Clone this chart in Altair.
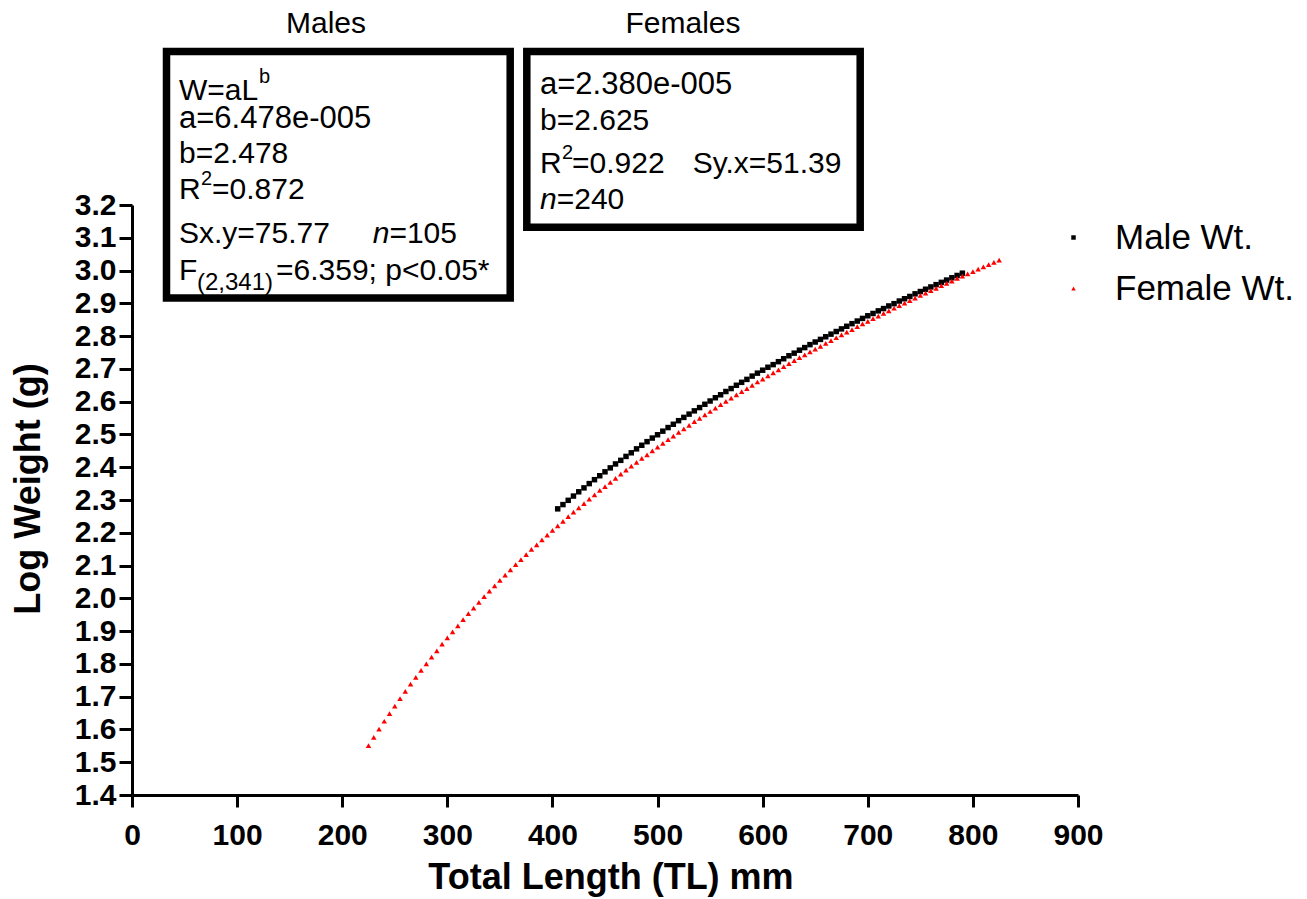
import altair as alt
import pandas as pd

FONT = "Liberation Sans"

# ---- data (fitted length-weight curves) ----
series_names = ["Male Wt.", "Female Wt."]

male_tl = [405, 410, 415, 420, 425, 430, 435, 440, 445, 450,
           455, 460, 465, 470, 475, 480, 485, 490, 495, 500,
           505, 510, 515, 520, 525, 530, 535, 540, 545, 550,
           555, 560, 565, 570, 575, 580, 585, 590, 595, 600,
           605, 610, 615, 620, 625, 630, 635, 640, 645, 650,
           655, 660, 665, 670, 675, 680, 685, 690, 695, 700,
           705, 710, 715, 720, 725, 730, 735, 740, 745, 750,
           755, 760, 765, 770, 775, 780, 785, 790]
male_logw = [2.273, 2.286, 2.299, 2.312, 2.325, 2.337, 2.350, 2.362, 2.374, 2.386,
             2.398, 2.410, 2.421, 2.433, 2.444, 2.456, 2.467, 2.478, 2.489, 2.499,
             2.510, 2.521, 2.531, 2.542, 2.552, 2.562, 2.572, 2.582, 2.592, 2.602,
             2.612, 2.621, 2.631, 2.640, 2.650, 2.659, 2.668, 2.678, 2.687, 2.696,
             2.705, 2.713, 2.722, 2.731, 2.740, 2.748, 2.757, 2.765, 2.774, 2.782,
             2.790, 2.798, 2.806, 2.814, 2.822, 2.830, 2.838, 2.846, 2.854, 2.862,
             2.869, 2.877, 2.884, 2.892, 2.899, 2.907, 2.914, 2.921, 2.929, 2.936,
             2.943, 2.950, 2.957, 2.964, 2.971, 2.978, 2.985, 2.992]

female_tl = [225, 230, 235, 240, 245, 250, 255, 260, 265, 270,
             275, 280, 285, 290, 295, 300, 305, 310, 315, 320,
             325, 330, 335, 340, 345, 350, 355, 360, 365, 370,
             375, 380, 385, 390, 395, 400, 405, 410, 415, 420,
             425, 430, 435, 440, 445, 450, 455, 460, 465, 470,
             475, 480, 485, 490, 495, 500, 505, 510, 515, 520,
             525, 530, 535, 540, 545, 550, 555, 560, 565, 570,
             575, 580, 585, 590, 595, 600, 605, 610, 615, 620,
             625, 630, 635, 640, 645, 650, 655, 660, 665, 670,
             675, 680, 685, 690, 695, 700, 705, 710, 715, 720,
             725, 730, 735, 740, 745, 750, 755, 760, 765, 770,
             775, 780, 785, 790, 795, 800, 805, 810, 815, 820,
             825]
female_logw = [1.551, 1.576, 1.601, 1.625, 1.648, 1.671, 1.694, 1.716, 1.738, 1.759,
               1.780, 1.800, 1.821, 1.840, 1.860, 1.879, 1.898, 1.916, 1.935, 1.953,
               1.970, 1.988, 2.005, 2.022, 2.038, 2.055, 2.071, 2.087, 2.103, 2.118,
               2.133, 2.149, 2.163, 2.178, 2.193, 2.207, 2.221, 2.235, 2.249, 2.263,
               2.276, 2.289, 2.303, 2.316, 2.329, 2.341, 2.354, 2.366, 2.379, 2.391,
               2.403, 2.415, 2.427, 2.438, 2.450, 2.461, 2.473, 2.484, 2.495, 2.506,
               2.517, 2.528, 2.539, 2.549, 2.560, 2.570, 2.580, 2.591, 2.601, 2.611,
               2.621, 2.631, 2.640, 2.650, 2.660, 2.669, 2.679, 2.688, 2.697, 2.707,
               2.716, 2.725, 2.734, 2.743, 2.752, 2.760, 2.769, 2.778, 2.786, 2.795,
               2.804, 2.812, 2.820, 2.829, 2.837, 2.845, 2.853, 2.861, 2.869, 2.877,
               2.885, 2.893, 2.901, 2.908, 2.916, 2.924, 2.931, 2.939, 2.946, 2.954,
               2.961, 2.968, 2.976, 2.983, 2.990, 2.997, 3.004, 3.011, 3.018, 3.025,
               3.032]

x_ticks = [0, 100, 200, 300, 400, 500, 600, 700, 800, 900]
y_ticks = [1.4, 1.5, 1.6, 1.7, 1.8, 1.9, 2.0, 2.1, 2.2, 2.3,
           2.4, 2.5, 2.6, 2.7, 2.8, 2.9, 3.0, 3.1, 3.2]

# ---- layout (pixels in the 1307x899 page) ----
LEFT, TOP, W, H = 132, 205, 946, 590

df = pd.DataFrame({
    "tl": male_tl + female_tl,
    "logw": male_logw + female_logw,
    "series": [series_names[0]] * len(male_tl) + [series_names[1]] * len(female_tl),
})
one = pd.DataFrame({"k": [0]})

legend = alt.Legend(
    title=None, orient="none", legendX=924, legendY=15, padding=0,
    labelFont=FONT, labelFontSize=35, labelColor="black", labelOffset=24,
    labelLimit=400, symbolSize=20, rowPadding=15, symbolStrokeWidth=0,
)

points = alt.Chart(df).mark_point(filled=True, size=30, opacity=1).encode(
    x=alt.X("tl:Q", scale=alt.Scale(domain=[0, 900], nice=False),
            axis=alt.Axis(values=x_ticks, title="Total Length (TL) mm", grid=False,
                          domainColor="black", domainWidth=3,
                          tickColor="black", tickWidth=3, tickSize=12,
                          labelFont=FONT, labelFontSize=30, labelFontWeight="bold",
                          labelColor="black", labelPadding=13, labelFlush=False,
                          labelOverlap=False,
                          titleFont=FONT, titleFontSize=36, titleFontWeight="bold",
                          titleColor="black", titleX=478.5, titleY=93.5,
                          titleBaseline="alphabetic", titleAlign="center")),
    y=alt.Y("logw:Q", scale=alt.Scale(domain=[1.4, 3.2], nice=False, zero=False),
            axis=alt.Axis(values=y_ticks, format=".1f", title="Log Weight (g)", grid=False,
                          domainColor="black", domainWidth=3,
                          tickColor="black", tickWidth=3, tickSize=13,
                          labelFont=FONT, labelFontSize=30, labelFontWeight="bold",
                          labelColor="black", labelPadding=3, labelOverlap=False,
                          titleFont=FONT, titleFontSize=36, titleFontWeight="bold",
                          titleColor="black", titleX=-93, titleY=283.5, titleAngle=270,
                          titleBaseline="alphabetic", titleAlign="center")),
    color=alt.Color("series:N", scale=alt.Scale(domain=series_names, range=["#000000", "#ff0000"]),
                    legend=legend),
    shape=alt.Shape("series:N", scale=alt.Scale(domain=series_names, range=["square", "triangle-up"]),
                    legend=legend),
)


def box(x0, y0, x1, y1):
    return alt.Chart(one).mark_rect(fill="white", stroke="black", strokeWidth=7.5).encode(
        x=alt.value(x0 - LEFT), x2=alt.value(x1 - LEFT),
        y=alt.value(y0 - TOP), y2=alt.value(y1 - TOP))


def txt(s, x, y, size=30, style="normal", align="left"):
    return alt.Chart(one).mark_text(
        text=s, align=align, baseline="alphabetic", font=FONT, fontSize=size,
        fontStyle=style, color="black").encode(
        x=alt.value(x - LEFT), y=alt.value(y - TOP))


annotations = [
    box(166.5, 51.5, 510.2, 298),
    box(526.8, 51.5, 860.2, 227.2),
    txt("Males", 326, 33, size=30, align="center"),
    txt("Females", 683, 33, size=30, align="center"),
    # Males box
    txt("W=aL", 179, 100),
    txt("b", 259, 83, size=20),
    txt("a=6.478e-005", 179, 128, size=31),
    txt("b=2.478", 179, 163),
    txt("R", 179, 199),
    txt("2", 201, 185, size=20),
    txt("=0.872", 212, 199),
    txt("Sx.y=75.77", 179, 243),
    txt("n", 372.7, 243, style="italic"),
    txt("=105", 389.4, 243),
    txt("F", 179, 280),
    txt("(2,341)", 197, 290, size=24),
    txt("=6.359; p<0.05*", 276, 280),
    # Females box
    txt("a=2.380e-005", 540, 94, size=31),
    txt("b=2.625", 540, 130),
    txt("R", 540, 173),
    txt("2", 562, 159, size=20),
    txt("=0.922", 572, 173),
    txt("Sy.x=51.39", 692.7, 173),
    txt("n", 540, 209, style="italic"),
    txt("=240", 556.7, 209),
]

chart = alt.layer(points, *annotations).properties(
    width=W, height=H,
    autosize=alt.AutoSizeParams(type="none"),
    padding={"left": LEFT, "top": TOP, "right": 1307 - LEFT - W, "bottom": 899 - TOP - H},
).configure(background="white").configure_view(strokeWidth=0, stroke="transparent")

chart.save("out.html", embed_options={"renderer": "svg", "actions": False})
